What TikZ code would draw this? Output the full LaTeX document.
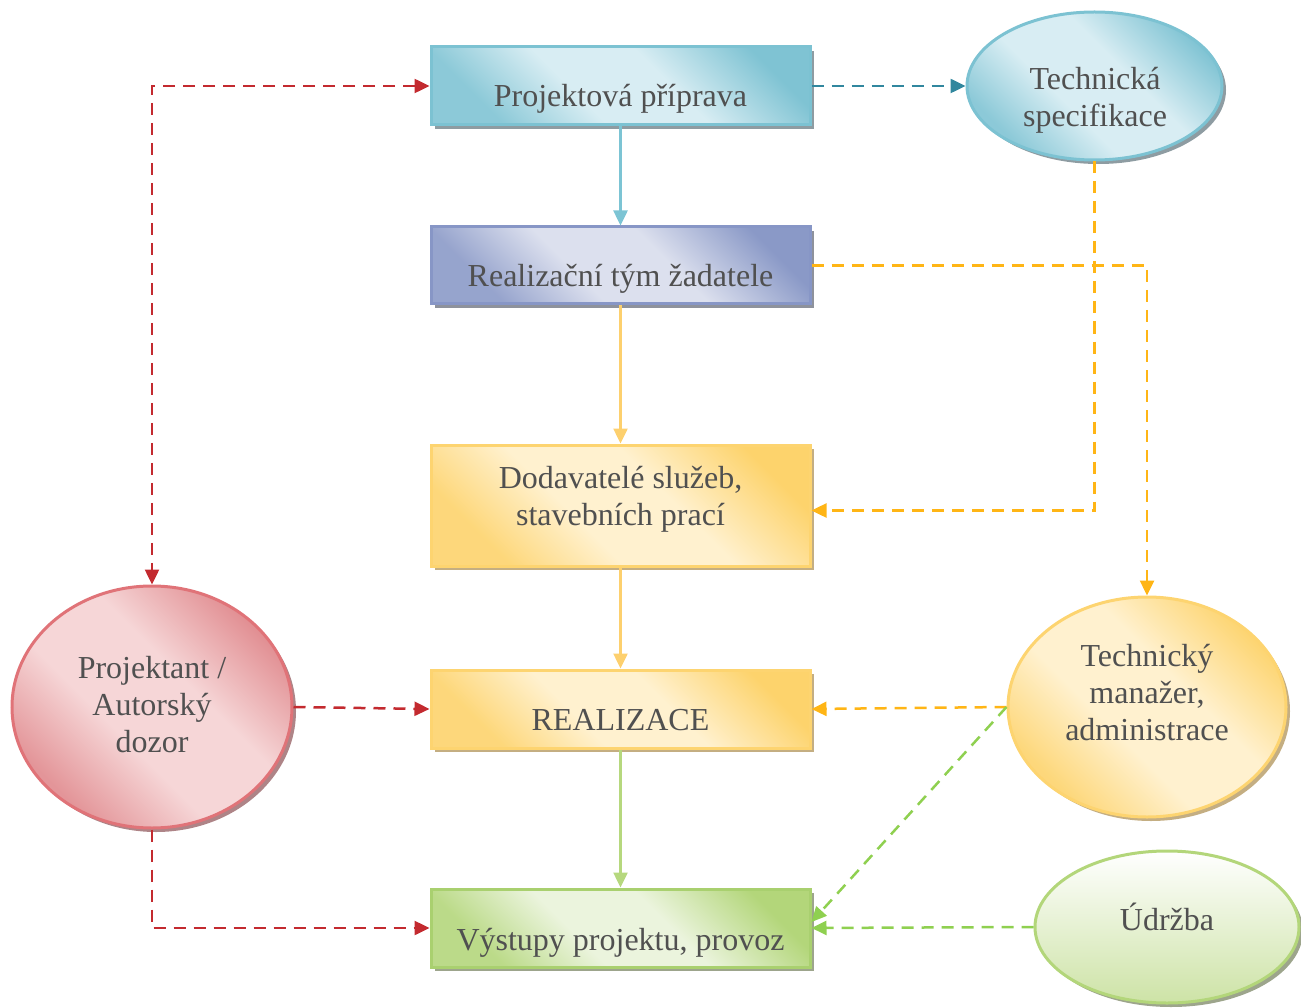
\documentclass[tikz,border=0pt]{standalone}
\usepackage{fontspec}
\setmainfont{Liberation Serif}
\usetikzlibrary{shapes.geometric,shadows,arrows.meta}
\definecolor{txtc}{HTML}{505050}
\definecolor{blueL}{HTML}{D8EDF3}
\definecolor{blueD}{HTML}{7FC3D3}
\definecolor{blueB}{HTML}{7CC2D2}
\definecolor{blueS}{HTML}{8E9CA2}
\definecolor{lavL}{HTML}{DCE0EE}
\definecolor{lavD}{HTML}{8A99C7}
\definecolor{lavB}{HTML}{8796C6}
\definecolor{lavS}{HTML}{8E929C}
\definecolor{yelL}{HTML}{FFF1CF}
\definecolor{yelD}{HTML}{FDD36C}
\definecolor{yelB}{HTML}{FDD470}
\definecolor{yelS}{HTML}{C4AE82}
\definecolor{grnL}{HTML}{EBF4DD}
\definecolor{grnD}{HTML}{B3D67A}
\definecolor{grnB}{HTML}{A9D06F}
\definecolor{grnS}{HTML}{9DA58C}
\definecolor{redL}{HTML}{F6D6D7}
\definecolor{redD}{HTML}{E08A8E}
\definecolor{redB}{HTML}{E07378}
\definecolor{redS}{HTML}{AE8487}
\definecolor{udD}{HTML}{CDE3A6}
\definecolor{udB}{HTML}{B3D67A}
\definecolor{cRed}{HTML}{C32A2F}
\definecolor{cTeal}{HTML}{31879E}
\definecolor{cOra}{HTML}{FFB515}
\definecolor{cGrn}{HTML}{8FD050}
\definecolor{sBlue}{HTML}{7CC4D4}
\definecolor{sOra}{HTML}{FDD06E}
\definecolor{sGrn}{HTML}{B6D87E}
\newcommand{\mkshade}[3]{%
  \pgfdeclareverticalshading{#1}{100bp}{color(0bp)=(#3!85!#2); color(26bp)=(#3!85!#2); color(42bp)=(#2); color(58bp)=(#2); color(76bp)=(#3); color(100bp)=(#3)}}
\mkshade{shBlue}{blueL}{blueD}
\mkshade{shLav}{lavL}{lavD}
\mkshade{shYel}{yelL}{yelD}
\mkshade{shGrn}{grnL}{grnD}
\mkshade{shRed}{redL}{redD}
\begin{document}
\begin{tikzpicture}[x=1pt,y=-1pt,
  txt/.style={text=txtc, font=\fontsize{32}{37}\selectfont, align=center, inner sep=0pt, anchor=base},
  shapebase/.style={draw, line width=3pt, inner sep=0pt},
  boxbase/.style={shapebase, rectangle, minimum width=379pt},
  ellbase/.style={shapebase, ellipse},
  shad/.style={general shadow={shadow xshift=4pt, shadow yshift=-4pt, fill=#1}},
  diag/.style 2 args={draw=#2, shade, shading=#1, shading angle=-45},
  bluefill/.style={diag={shBlue}{blueB}, shad=blueS},
  lavfill/.style={diag={shLav}{lavB}, shad=lavS},
  yelfill/.style={diag={shYel}{yelB}, shad=yelS},
  grnfill/.style={diag={shGrn}{grnB}, shad=grnS},
  redfill/.style={diag={shRed}{redB}, shad=redS},
  udfill/.style={draw=udB, top color=white, bottom color=udD, shad=grnS},
  tip/.style={-{Triangle[length=15pt,width=14pt]}},
  dtip/.style={{Triangle[length=15pt,width=14pt]}-{Triangle[length=15pt,width=14pt]}},
  solidc/.style={line width=2.5pt, draw=#1, tip, color=#1},
  dashc/.style={line width=2.5pt, draw=#1, color=#1, dash pattern=on 12pt off 8pt},
]
\useasboundingbox (0,0) rectangle (1301,1008);

% boxes
\node[boxbase, bluefill, minimum height=78pt] (p1) at (620.5,86) {};
\node[boxbase, lavfill, minimum height=77pt] (p2) at (620.5,265.5) {};
\node[boxbase, yelfill, minimum height=121pt] (p3) at (620.5,505.5) {};
\node[boxbase, yelfill, minimum height=78pt] (p4) at (620.5,709) {};
\node[boxbase, grnfill, minimum height=78pt] (p5) at (620.5,928) {};

% ellipses
\node[ellbase, bluefill, minimum width=255pt, minimum height=148pt] (ts) at (1094.5,86) {};
\node[ellbase, redfill, minimum width=280pt, minimum height=242pt] (pa) at (152,707) {};
\node[ellbase, yelfill, minimum width=278pt, minimum height=220pt] (tm) at (1147,707) {};
\node[ellbase, udfill, minimum width=264pt, minimum height=152pt] (ud) at (1167,927) {};

% texts (base anchor = baseline of the last line)
\node[txt] (p1t) at (620.5,107) {Projektová příprava};
\node[txt] (p2t) at (620.5,287) {Realizační tým žadatele};
\node[txt] (p3t) at (620.5,525) {Dodavatelé služeb,\\stavebních prací};
\node[txt] (p4t) at (620.5,730) {REALIZACE};
\node[txt] (p5t) at (620.5,950) {Výstupy projektu, provoz};
\node[txt] (tst) at (1095,127) {Technická\\specifikace};
\node[txt] (pat) at (152,752) {Projektant /\\Autorský\\dozor};
\node[txt] (tmt) at (1147,740) {Technický\\manažer,\\administrace};
\node[txt] (udt) at (1167,930) {Údržba};

% solid connectors
\draw[solidc=sBlue] (p1.south) -- (p2.north);
\draw[solidc=sOra] (p2.south) -- (p3.north);
\draw[solidc=sOra] (p3.south) -- (p4.north);
\draw[solidc=sGrn] (p4.south) -- (p5.north);

% dashed connectors
\draw[dashc=cRed, dtip] (p1.west) -| (pa.north);
\draw[dashc=cRed, tip] (pa.east) -- (p4.west);
\draw[dashc=cRed, tip] (pa.south) |- (p5.west);
\draw[dashc=cTeal, tip] (p1.east) -- (ts.west);
\draw[dashc=cOra, tip] (ts.south) |- ([yshift=-5pt]p3.east);
\draw[dashc=cOra, tip] (p2.east) -| (tm.north);
\draw[dashc=cOra, tip] (tm.west) -- (p4.east);
\draw[dashc=cGrn, tip] (tm.west) -- ([yshift=6pt]p5.east);
\draw[dashc=cGrn, tip] (ud.west) -- (p5.east);
\end{tikzpicture}
\end{document}
